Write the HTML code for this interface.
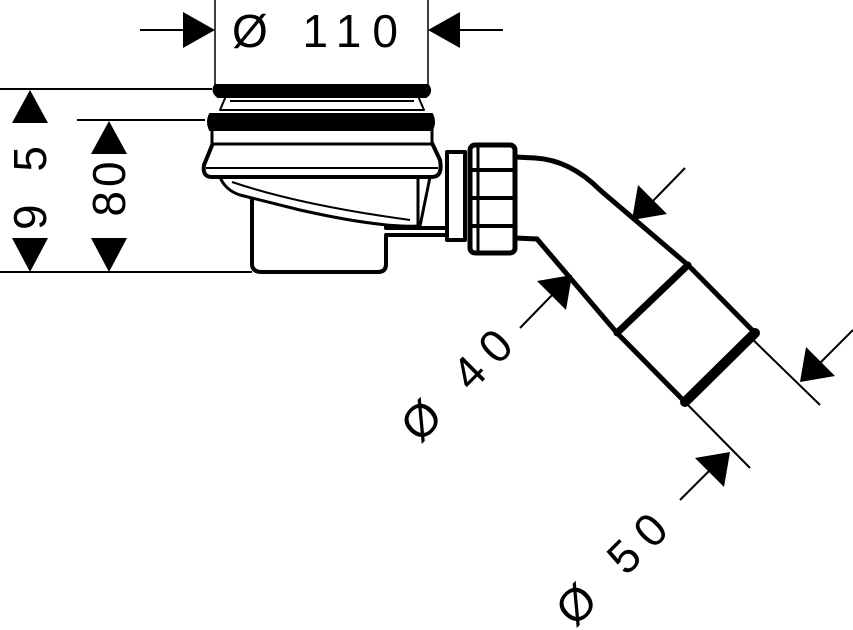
<!DOCTYPE html>
<html><head><meta charset="utf-8"><style>html,body{margin:0;padding:0;background:#fff}svg{display:block}</style></head>
<body>
<svg width="853" height="630" viewBox="0 0 853 630" xmlns="http://www.w3.org/2000/svg" font-family="Liberation Sans, sans-serif">
<g stroke="#000" fill="none">
<line x1="215" y1="0" x2="215" y2="84" stroke-width="1.5"/>
<line x1="428" y1="0" x2="428" y2="84" stroke-width="1.5"/>
<line x1="140" y1="30" x2="185" y2="30" stroke-width="2"/>
<line x1="458" y1="30" x2="503" y2="30" stroke-width="2"/>
<line x1="0" y1="89" x2="212" y2="89" stroke-width="2"/>
<line x1="77" y1="120" x2="205" y2="120" stroke-width="2"/>
<line x1="0" y1="272" x2="252" y2="272" stroke-width="2"/>
<line x1="745" y1="332" x2="820" y2="405" stroke-width="2"/>
<line x1="685" y1="402" x2="750" y2="468" stroke-width="2"/>
<line x1="685" y1="168" x2="650" y2="204" stroke-width="2"/>
<line x1="520" y1="328" x2="555" y2="292" stroke-width="2"/>
<line x1="853" y1="330" x2="818" y2="365" stroke-width="2"/>
<line x1="680" y1="500" x2="712" y2="468" stroke-width="2"/>
</g>
<g fill="#000">
<polygon points="215,30 183,12 183,48"/>
<polygon points="428,30 460,12 460,48"/>
<polygon points="30,90 12,123 48,123"/>
<polygon points="30,272 12,238 48,238"/>
<polygon points="109,121 91,154 127,154"/>
<polygon points="109,272 91,238 127,238"/>
<polygon points="632,220 638,185 667,214"/>
<polygon points="572,275 537,281 566,310"/>
<polygon points="800,382 806,347 835,376"/>
<polygon points="730,452 695,458 724,487"/>
</g>
<g font-size="46" fill="#000">
<text x="232" y="47" letter-spacing="11">Ø 110</text>
<text transform="translate(46,183) rotate(-90)" text-anchor="middle" letter-spacing="10">9 5</text>
<text transform="translate(125,187) rotate(-90)" text-anchor="middle" letter-spacing="4">80</text>
<text transform="translate(472,392) rotate(-45)" text-anchor="middle" letter-spacing="12">Ø 40</text>
<text transform="translate(627,576) rotate(-45)" text-anchor="middle" letter-spacing="12">Ø 50</text>
</g>
<g stroke="#000" fill="#fff" stroke-width="4" stroke-linejoin="round">
<path d="M252,195 L252,264 Q252,272 262,272 L378,272 Q386,272 386,264 L386,235 L450,235 L450,228 L386,228 L386,195 Z"/>
<path d="M220,177 Q225,190 240,195 L300,210 Q380,228 420,226 L430,177 Z" stroke-width="3"/>
<path d="M232,182 Q300,205 410,220" stroke-width="2" fill="none"/>
<line x1="418" y1="177" x2="418" y2="226" stroke-width="3"/>
<path d="M213,143 L432,143 L440,160 Q443,177 432,177 L212,177 Q202,177 204,165 Z"/>
<line x1="206" y1="168" x2="438" y2="168" stroke-width="2"/>
<rect x="212" y="128" width="220" height="16" stroke-width="3"/>
<path d="M210,114 L432,114 Q436,122 432,130 L210,130 Q206,122 210,114 Z" fill="#000" stroke-width="2"/>
<path d="M226,96 L418,96 L424,110 L220,110 Z" stroke-width="2"/>
<line x1="230" y1="101" x2="414" y2="101" stroke-width="2"/>
<path d="M215,85 L428,85 Q433,92 426,97 L218,97 Q211,92 215,85 Z" fill="#000" stroke-width="2"/>
<rect x="447" y="152" width="18" height="88" stroke-width="4"/>
<rect x="470" y="145" width="45" height="108" rx="5" stroke-width="5"/>
<line x1="478" y1="145" x2="478" y2="253" stroke-width="3"/>
<line x1="470" y1="170" x2="515" y2="170" stroke-width="4"/>
<line x1="470" y1="198" x2="515" y2="198" stroke-width="4"/>
<line x1="470" y1="226" x2="515" y2="226" stroke-width="4"/>
</g>
<g stroke="#000" fill="none" stroke-linecap="round">
<path d="M515,157 L535,158 Q570,160 600,190 L688,265" stroke-width="5"/>
<path d="M515,238 L537,239 L617,333" stroke-width="5"/>
<polygon points="688,265 755,333 685,402 617,333" fill="#fff" stroke-width="5"/>
<line x1="755" y1="333" x2="685" y2="402" stroke-width="10"/>
<line x1="688" y1="265" x2="617" y2="333" stroke-width="7"/>
</g>
</svg>
</body></html>
